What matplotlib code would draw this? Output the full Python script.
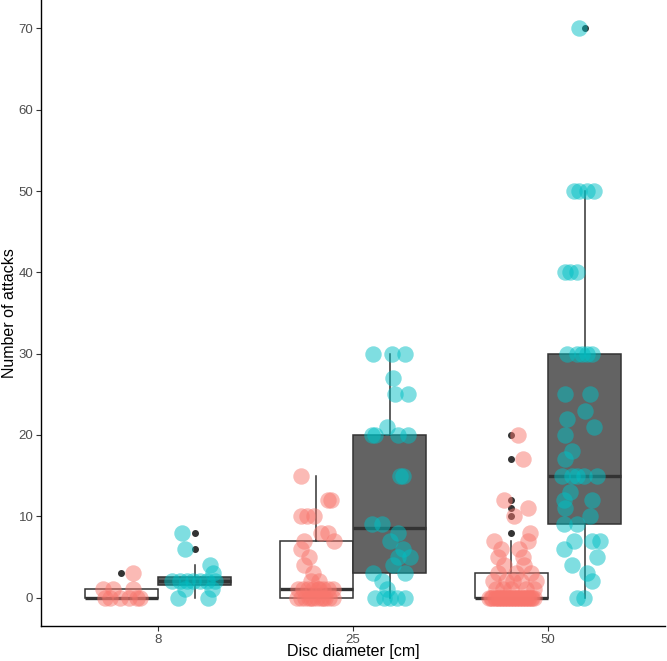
import matplotlib
matplotlib.use("Agg")
import matplotlib.pyplot as plt
import numpy as np

plt.rcParams['font.family'] = ['Liberation Sans', 'DejaVu Sans']

# ---- data ----
categories = ["8", "25", "50"]
groups = ["A", "B"]          # red (open box), cyan (filled box)

red_8 = [0, 0, 0, 0, 0, 0, 1, 1, 1, 3]
cyan_8 = [0, 0, 1, 1, 2, 2, 2, 2, 2, 2, 2, 3, 4, 6, 8]
red_25 = [0]*12 + [1]*9 + [2, 2, 3, 4, 5, 6, 7, 7, 8, 8, 10, 10, 10, 12, 12, 15]
cyan_25 = [0]*5 + [1, 2, 3, 3, 4, 5, 5, 6, 7, 8, 9, 9, 15, 15, 20, 20, 20, 20, 21, 25, 25, 27, 30, 30, 30]
red_50 = [0]*30 + [1]*5 + [2]*5 + [3]*3 + [4, 4, 5, 5, 6, 6, 7, 7, 8, 10, 11, 12, 17, 20]
cyan_50 = [0, 0, 2, 3, 4, 5, 6, 7, 7, 7, 9, 9, 10, 11, 12, 12, 13, 15, 15, 15, 15, 15,
           17, 18, 20, 21, 22, 23, 25, 25, 30, 30, 30, 30, 30, 40, 40, 40, 50, 50, 50, 50, 70]

# horizontal jitter (pixels from box centre)
jit_red_8 = [-16, -11, -1, 8, 16, 19, -18, -8, 12, 12]
jit_cyan_8 = [-17, 13, 17, -10, -23, -15, -8, -2, 5, 12, 20, 18, 15, -10, -13]
jit_red_25 = [-19, -15, -11, -7, -3, 1, 5, 9, 13, 17, -5, 7,
              -18, -13, -8, -3, 2, 7, 12, 17, 3,
              -5, 3, -3, -12, -7, -15, -12, 18, 5, 12, -15, -9, -2, 12, 15, -15]
jit_cyan_25 = [-15, -6, 0, 7, 15, -3, -8, -17, 15, 3, 8, 20, 13, 0, 8, -18, -8, 10, 13,
               -18, -15, 8, 18, -3, 5, 18, 3, -17, 2, 15]
jit_red_50 = [-22, -19, -16, -13, -10, -7, -4, -1, 2, 5, 8, 11, 14, 17, 20, 23,
              -20, -15, -9, -3, 3, 9, 15, 21, -12, -6, 0, 6, 12, 18,
              -15, -8, 0, 15, 23,
              -18, -5, 2, 10, 25,
              -13, 5, 20,
              13, -7, 12, -13, -10, 8, -17, 17, 19, 3, 17, -7, 12, 7]
jit_cyan_50 = [-8, -1, 7, 2, -13, 12, -21, -11, 7, 15, -21, -8, 5, -20, -21, 7, -15,
               -23, -13, -8, -1, 12, -20, -13, -20, 9, -18, 0, -20, 5,
               -18, -8, -3, 2, 7, -20, -15, -8, -11, -6, 2, 9, -6]

box_data = [red_8, cyan_8, red_25, cyan_25, red_50, cyan_50]
jitters = [jit_red_8, jit_cyan_8, jit_red_25, jit_cyan_25, jit_red_50, jit_cyan_50]

RED = "#F8766D"
CYAN = "#00BFC4"
dodge = 0.1875
px_per_unit = 195.0

fig = plt.figure(figsize=(6.67, 6.61), dpi=100)
ax = fig.add_axes([41/667, 35/661, 624/667, 626/661])

positions = []
for i in range(len(categories)):
    positions += [i + 1 - dodge, i + 1 + dodge]

bp = ax.boxplot(box_data, positions=positions, widths=0.375, patch_artist=True,
                showcaps=False, whis=1.5, manage_ticks=False,
                boxprops=dict(edgecolor="#333333", linewidth=1.1),
                whiskerprops=dict(color="#333333", linewidth=1.1),
                medianprops=dict(color="#333333", linewidth=2.4),
                flierprops=dict(marker="o", markerfacecolor="#333333",
                                markeredgecolor="#333333", markersize=4),
                zorder=1)
for k, patch in enumerate(bp["boxes"]):
    patch.set_facecolor("white" if k % 2 == 0 else "#636363")

for k, (vals, jit) in enumerate(zip(box_data, jitters)):
    col = RED if k % 2 == 0 else CYAN
    x = positions[k] + np.array(jit) / px_per_unit
    ax.scatter(x, vals, s=140, color=col, alpha=0.5, linewidths=0, zorder=3)

ax.set_xlim(0.4, 3.6)
ax.set_ylim(-3.5, 73.5)
ax.set_xticks([1, 2, 3])
ax.set_xticklabels(categories)
ax.set_yticks(np.arange(0, 71, 10))
ax.tick_params(colors="#333333", labelcolor="#4D4D4D", labelsize=9.5, length=3.5,
               width=0.8, pad=2)
for s in ["top", "right"]:
    ax.spines[s].set_visible(False)
for s in ["left", "bottom"]:
    ax.spines[s].set_linewidth(1.0)
ax.set_xlabel("Disc diameter [cm]", fontsize=11.5, labelpad=-1)
ax.set_ylabel("Number of attacks", fontsize=11.5)
ax.yaxis.set_label_coords(-0.038, 0.5)

fig.savefig("out.png", dpi=100)
